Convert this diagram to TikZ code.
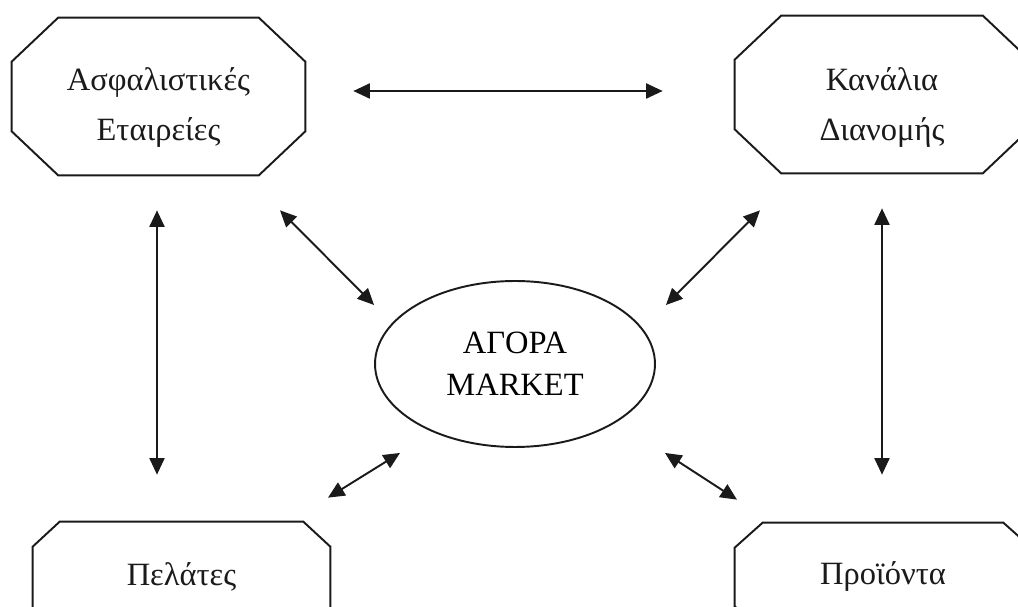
\documentclass[tikz,border=0pt]{standalone}
\usepackage{fontspec}
\setmainfont{Liberation Serif}
\usepackage{xcolor}
\usepackage{tikz}
\usetikzlibrary{calc,arrows.meta,shapes.geometric}
\definecolor{ink}{HTML}{1A1A1A}
\tikzset{
  frame/.style={draw=ink, line width=1.1pt, line join=miter},
  plate/.style={rectangle, inner sep=0pt},
  lab/.style={text=ink, align=center, font=\fontsize{18.5}{28.5}\selectfont},
  oval/.style={ellipse, frame, align=center, inner sep=0pt,
    minimum width=5.6cm, minimum height=3.32cm, font=\fontsize{18.5}{24}\selectfont},
  arr/.style={draw=ink, line width=1.1pt,
    {Triangle[length=3.3mm,width=3mm]}-{Triangle[length=3.3mm,width=3mm]}},
}
% octagonal outline round a plate node: name, x cut, y cut
\newcommand{\octframe}[3]{%
  \draw[frame] ([xshift=#2]#1.north west) -- ([xshift=-#2]#1.north east)
    -- ([yshift=-#3]#1.north east) -- ([yshift=#3]#1.south east)
    -- ([xshift=-#2]#1.south east) -- ([xshift=#2]#1.south west)
    -- ([yshift=#3]#1.south west) -- ([yshift=-#3]#1.north west) -- cycle;}
\begin{document}
\begin{tikzpicture}[x=0.02cm,y=-0.02cm]
  \useasboundingbox (0,0) rectangle (1018,607);
  \clip (0,0) rectangle (1018,607);
  % the five parties
  \node[plate,minimum width=5.86cm,minimum height=3.14cm,
    label={[lab,yshift=-0.22cm]center:Ασφαλιστικές\\Εταιρείες}] (insur) at (158.5,96.5) {};
  \node[plate,minimum width=5.88cm,minimum height=3.14cm,
    label={[lab,yshift=-0.26cm]center:Κανάλια\\Διανομής}] (chan) at (882,94.5) {};
  \node[plate,minimum width=5.94cm,minimum height=2.2cm,
    label={[lab]center:Πελάτες}] (cust) at (181.5,577) {};
  \node[plate,minimum width=5.92cm,minimum height=2.16cm,
    label={[lab]center:Προϊόντα}] (prod) at (883,577) {};
  \node[oval] (mkt) at (515,364) {ΑΓΟΡΑ\\MARKET};
  \octframe{insur}{0.93cm}{0.88cm}
  \octframe{chan}{0.93cm}{0.88cm}
  \octframe{cust}{0.54cm}{0.5cm}
  \octframe{prod}{0.56cm}{0.5cm}
  % links
  \draw[arr] ($(insur.east)+(48,-5.5)$) -- ($(chan.west)+(-72,-3.5)$);
  \draw[arr] ($(insur.south)+(-1.5,35)$) -- ($(cust.north)+(-24.5,-47)$);
  \draw[arr] ($(chan.south)+(0,35)$) -- ($(prod.north)+(-1,-48)$);
  \draw[arr] ($(insur.south)+(121.5,35)$) -- ($(mkt.west)+(0,-59)$);
  \draw[arr] ($(chan.south)+(-122,37)$) -- ($(mkt.east)+(10,-59)$);
  \draw[arr] ($(cust.north)+(146.5,-24)$) -- ($(mkt.south)+(-115,5)$);
  \draw[arr] ($(mkt.south)+(150,5)$) -- ($(prod.north)+(-146,-23)$);
\end{tikzpicture}
\end{document}
